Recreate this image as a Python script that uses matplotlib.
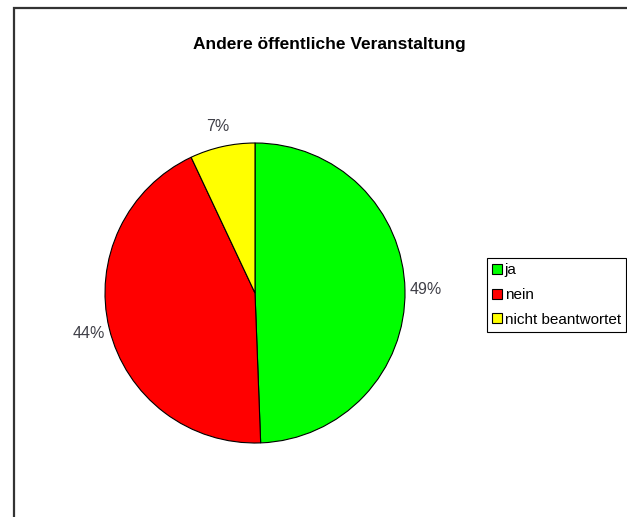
import matplotlib.pyplot as plt
import matplotlib.patches as mpatches

plt.rcParams['font.family'] = ['Liberation Sans', 'DejaVu Sans']

# data
categories = ['ja', 'nein', 'nicht beantwortet']
values = [49.4, 43.6, 7.0]
colours = ['#00ff00', '#ff0000', '#ffff00']

W, H = 627, 517
fig = plt.figure(figsize=(W / 100, H / 100), dpi=100)

# outer chart frame (only left and top edges visible)
frame = mpatches.Rectangle((14 / W, -0.2), 1.0, (H - 8) / H + 0.2, transform=fig.transFigure,
                           fill=False, edgecolor='#333333', linewidth=1.6)
fig.patches.append(frame)

fig.text(329 / W, 1 - 44 / H, 'Andere öffentliche Veranstaltung', ha='center', va='center',
         fontsize=12.5, fontweight='bold', color='black')

# pie axes: centre (255, 293), radius 150 px
ax = fig.add_axes([105 / W, (H - 443) / H, 300 / W, 300 / H])
wedges, texts, autotexts = ax.pie(values, colors=colours, startangle=90, counterclock=False,
                                  autopct='%1.0f%%', pctdistance=1.14,
                                  wedgeprops=dict(edgecolor='black', linewidth=0.8),
                                  textprops=dict(fontsize=11.5, color='#404048'))
ax.set_xlim(-1, 1)
ax.set_ylim(-1, 1)

handles = [mpatches.Patch(facecolor=c, edgecolor='black', linewidth=0.8) for c in colours]
leg = fig.legend(handles, categories, loc='upper left',
                 bbox_to_anchor=(487 / W, 1 - 258 / H), fontsize=11,
                 frameon=True, fancybox=False, edgecolor='black', framealpha=1,
                 handlelength=0.6, handleheight=0.6, handletextpad=0.2,
                 borderpad=0.35, labelspacing=0.7, borderaxespad=0)
leg.get_frame().set_linewidth(0.8)

plt.savefig('out.png', dpi=100)
